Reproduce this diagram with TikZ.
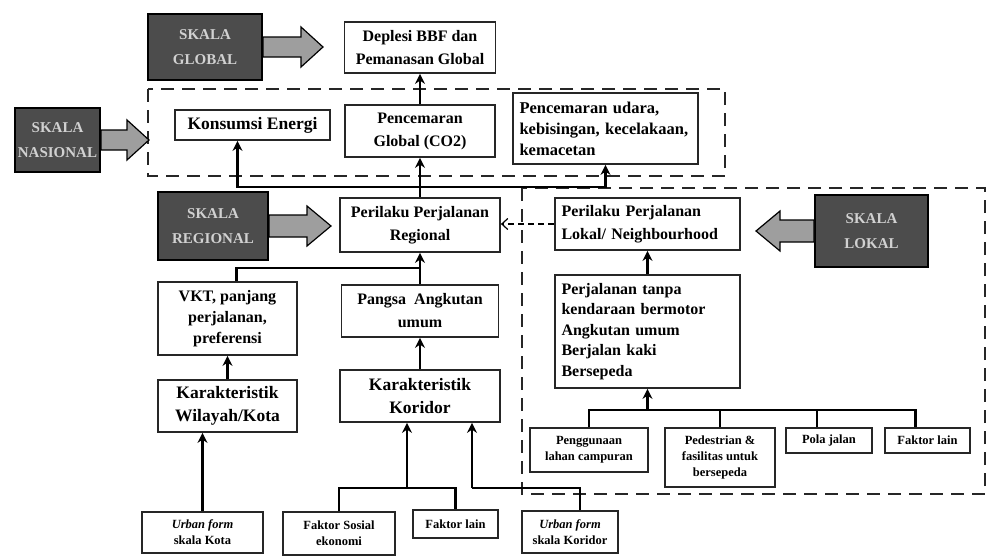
\documentclass[tikz,border=0pt]{standalone}
\usepackage{fontspec}
\setmainfont{Liberation Serif}
\usetikzlibrary{arrows.meta,calc}
\pgfdeclarelayer{bg}
\pgfsetlayers{bg,main}
\begin{document}
\begin{tikzpicture}[x=1pt,y=-1pt,
  box/.style={draw=black!85, line width=1.8pt, fill=white, inner sep=0pt,
    align=center, font=\fontsize{16}{23}\selectfont\bfseries},
  bigbox/.style={box, font=\fontsize{17.5}{23}\selectfont\bfseries},
  leftbox/.style={box, align=left},
  small/.style={box, line width=1.4pt, font=\fontsize{12.5}{16}\selectfont\bfseries},
  skala/.style={draw=black, line width=2pt, fill=black!70, text=black!18,
    inner sep=0pt, align=center, font=\fontsize{15}{25}\selectfont\bfseries},
  blockarrow/.style={draw=black, line width=1.2pt, fill=black!38},
  conn/.style={draw=black, line width=2.4pt, -{Stealth[length=10pt,width=10pt]}},
  wire/.style={draw=black, line width=2.4pt},
  zone/.style={draw=black!85, line width=2.6pt, dash pattern=on 13pt off 8pt},
  weak/.style={draw=black, line width=1.2pt, dash pattern=on 6pt off 4pt,
    -{Straight Barb[length=6pt,width=11pt]}}
]
\useasboundingbox (0,0) rectangle (988,557);

% ---- scale zones (dashed frames) ----
\begin{pgfonlayer}{bg}
  \draw[zone] (148,89) rectangle (725,176);
  \draw[zone] (522,188) rectangle (985,494);
\end{pgfonlayer}

% ---- scale labels ----
\node[skala, minimum width=114, minimum height=66] (sg) at (205,47) {SKALA\\GLOBAL};
\node[skala, minimum width=85, minimum height=64] (sn) at (57.5,140) {SKALA\\NASIONAL};
\node[skala, minimum width=110, minimum height=68] (sr) at (213,226) {SKALA\\REGIONAL};
\node[skala, minimum width=113, minimum height=72] (sl) at (871.5,231) {SKALA\\LOKAL};

% ---- global / national level ----
\node[box, minimum width=151, minimum height=51] (dep) at (420,47.5) {Deplesi BBF dan\\Pemanasan Global};
\node[bigbox, minimum width=155, minimum height=30] (kons) at (252.5,125) {Konsumsi Energi};
\node[box, minimum width=150, minimum height=52] (pg) at (420,131) {Pencemaran\\Global (CO2)};
\node[leftbox, minimum width=185, minimum height=71, text width=172,
  font=\fontsize{16.5}{21}\selectfont\bfseries] (udara) at (605.5,128.5)
  {Pencemaran udara,\\kebisingan, kecelakaan,\\kemacetan};

% ---- regional level ----
\node[box, minimum width=160, minimum height=54] (reg) at (420,225) {Perilaku Perjalanan\\Regional};
\node[box, minimum width=139, minimum height=73, font=\fontsize{16}{21}\selectfont\bfseries]
  (vkt) at (227.5,318.5) {VKT, panjang\\perjalanan,\\preferensi};
\node[box, minimum width=157, minimum height=52] (pangsa) at (420,311) {Pangsa\ \ Angkutan\\umum};
\node[bigbox, minimum width=139, minimum height=52] (karW) at (227.5,406) {Karakteristik\\Wilayah/Kota};
\node[bigbox, minimum width=160, minimum height=52] (karK) at (420,396) {Karakteristik\\Koridor};
\node[small, minimum width=121, minimum height=41] (uk) at (202.5,532.5) {\textit{Urban form}\\skala Kota};
\node[small, minimum width=112, minimum height=43] (fs) at (339,533.5) {Faktor Sosial\\ekonomi};
\node[small, minimum width=85, minimum height=28] (fl) at (455.5,524) {Faktor lain};
\node[small, minimum width=96, minimum height=42] (ukr) at (570,532) {\textit{Urban form}\\skala Koridor};

% ---- local level ----
\node[leftbox, minimum width=185, minimum height=52, text width=172] (lok) at (647.5,224)
  {Perilaku Perjalanan\\Lokal/ Neighbourhood};
\node[leftbox, minimum width=185, minimum height=113, text width=172,
  font=\fontsize{16}{20.5}\selectfont\bfseries] (tnp) at (647.5,331.5)
  {Perjalanan tanpa\\kendaraan bermotor\\Angkutan umum\\Berjalan kaki\\Bersepeda};
\node[small, minimum width=118, minimum height=44] (pl) at (589,450) {Penggunaan\\lahan campuran};
\node[small, minimum width=110, minimum height=59] (ped) at (720,457.5) {Pedestrian \&\\fasilitas untuk\\bersepeda};
\node[small, minimum width=86, minimum height=25] (pola) at (829,440.5) {Pola jalan};
\node[small, minimum width=85, minimum height=25] (fl2) at (927.5,440.5) {Faktor lain};

% ---- block arrows from the scale labels ----
\draw[blockarrow] ($(sg.east)+(0,-10)$) -- ++(38,0) -- ++(0,-10) -- ++(22,20)
  -- ++(-22,20) -- ++(0,-10) -- ++(-38,0) -- cycle;
\draw[blockarrow] ($(sn.east)+(0,-10)$) -- ++(26,0) -- ++(0,-10) -- ++(22,20)
  -- ++(-22,20) -- ++(0,-10) -- ++(-26,0) -- cycle;
\draw[blockarrow] ($(sr.east)+(0,-11)$) -- ++(38,0) -- ++(0,-9) -- ++(24,20)
  -- ++(-24,20) -- ++(0,-9) -- ++(-38,0) -- cycle;
\draw[blockarrow] ($(sl.west)+(0,-11)$) -- ++(-34,0) -- ++(0,-9) -- ++(-24,20)
  -- ++(24,20) -- ++(0,-9) -- ++(34,0) -- cycle;

% ---- connectors: upper part ----
\coordinate (jn) at (420,187);
\draw[conn] (pg.north) -- (dep.south);
\draw[conn] (reg.north) -- (pg.south);
\draw[conn] (jn) -| ([xshift=-15]kons.south);
\draw[conn] (jn) -| (udara.south);
\draw[weak] (lok.west) -- (lok.west -| reg.east);

% ---- connectors: regional branch ----
\coordinate (rj) at (420,268);
\draw[conn] (pangsa.north) -- (reg.south);
\draw[wire] ([xshift=9]vkt.north) |- (rj);
\draw[conn] (karW.north) -- (vkt.south);
\draw[conn] (karK.north) -- (pangsa.south);
\draw[conn] (uk.north) -- (uk.north |- karW.south);

\coordinate (bj) at (407,488);
\draw[wire] (fs.north) |- (fl.north |- bj) -- (fl.north);
\draw[conn] (bj) -- (bj |- karK.south);
\draw[wire] ([xshift=10]ukr.north) |- (472,488);
\draw[conn] (472,488) -- (472,396 |- karK.south);

% ---- connectors: local branch ----
\coordinate (tj) at (647.5,410);
\draw[conn] (tnp.north) -- (lok.south);
\draw[conn] (tj) -- (tnp.south);
\draw[wire] (pl.north) |- ([xshift=-12]fl2.north |- tj) -- ([xshift=-12]fl2.north);
\draw[wire] (ped.north) -- (ped.north |- tj);
\draw[wire] ([xshift=-12]pola.north) -- ([xshift=-12]pola.north |- tj);
\end{tikzpicture}
\end{document}
